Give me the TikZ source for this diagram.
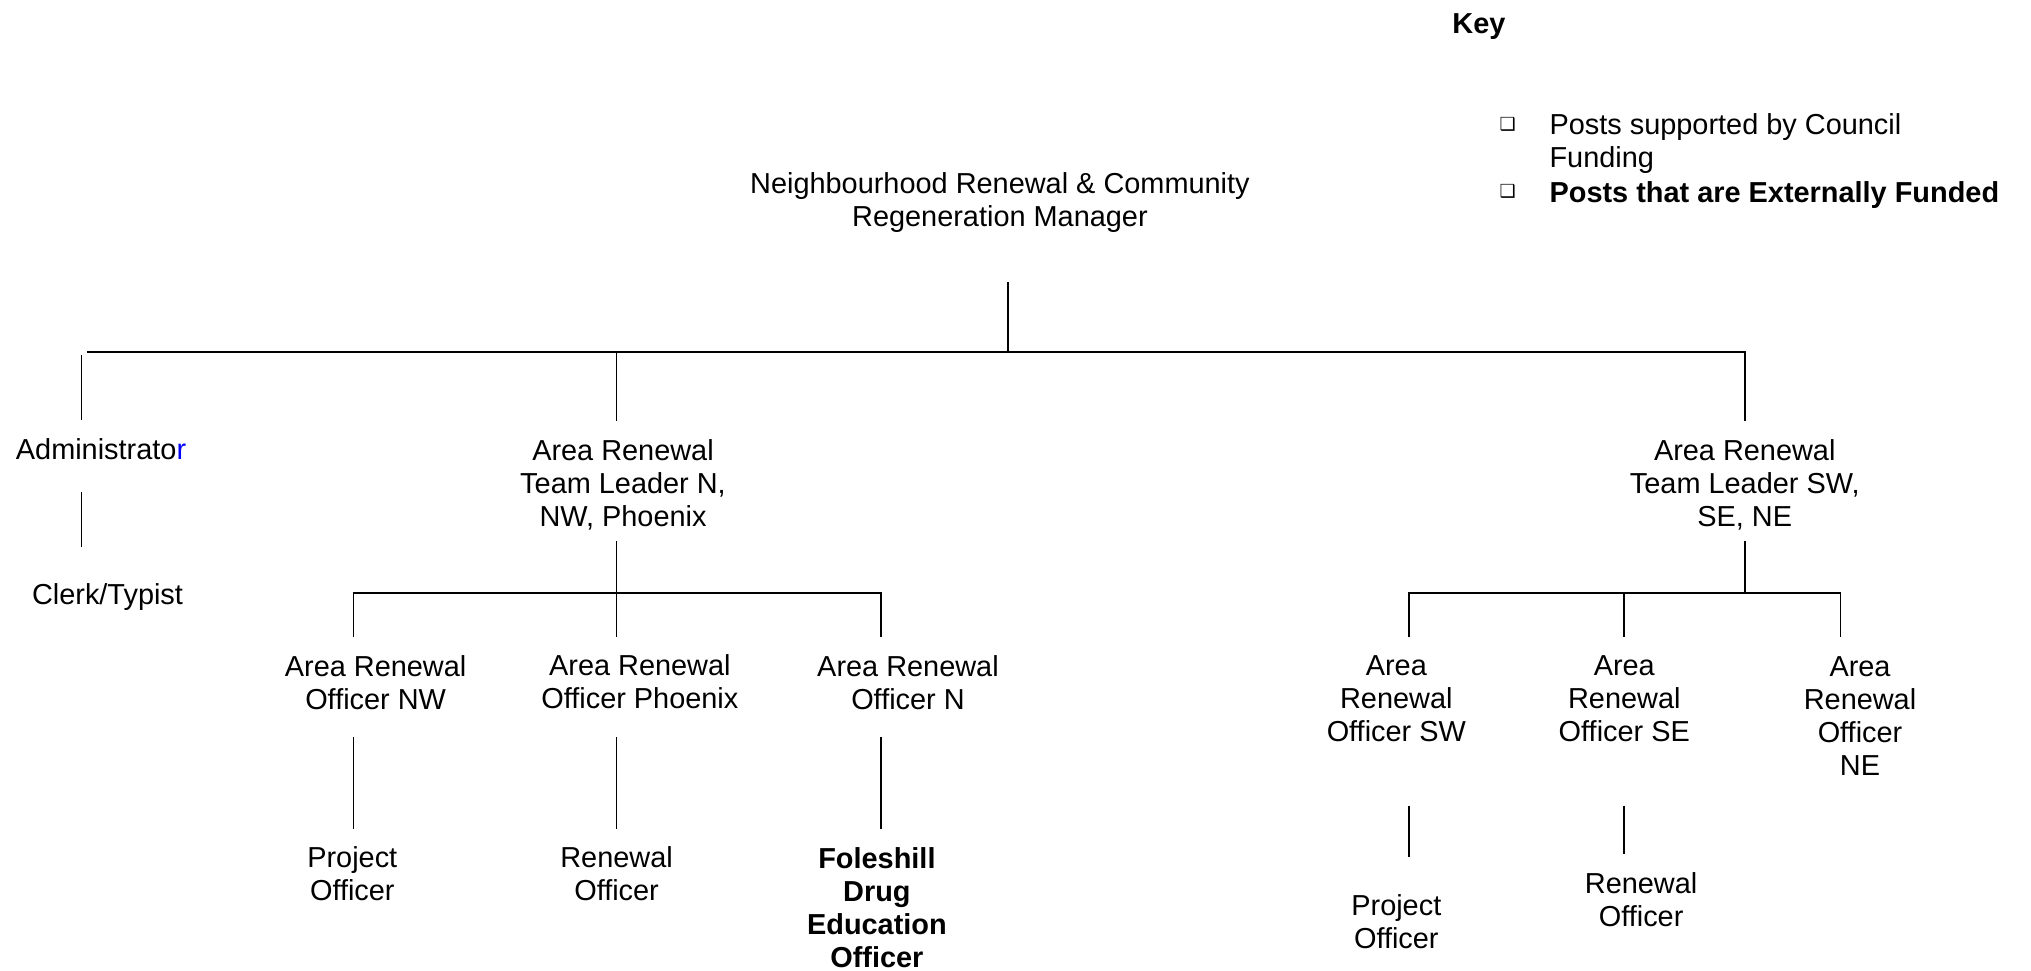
\documentclass[tikz,border=0pt]{standalone}
\usepackage{fontspec}
\setmainfont{Liberation Sans}
\newfontfamily\boxfont{DejaVu Sans}
\begin{document}
\begin{tikzpicture}[x=0.6477pt,y=-0.6477pt,
  post/.style={anchor=north,inner sep=0pt,align=center,font=\fontsize{14.45}{16.5}\selectfont},
  funded/.style={post,font=\fontsize{14.45}{16.5}\selectfont\bfseries},
  keytext/.style={anchor=north west,inner sep=0pt,align=left,font=\fontsize{14.45}{16.5}\selectfont},
  keybox/.style={inner sep=0pt,font=\fontsize{9}{9}\boxfont},
  link/.style={line width=0.85pt}]
\useasboundingbox (0,0) rectangle (1568,749);

% ---- key ----
\node[keytext,font=\fontsize{14.45}{16.5}\selectfont\bfseries] (key) at (1121,10) {Key};
\node[keybox] (kb1) at (1164,96) {❑};
\node[keytext] (k1) at (1196,87) {Posts supported by Council\\Funding};
\node[keybox] (kb2) at (1164,148) {❑};
\node[keytext,font=\fontsize{14.45}{16.5}\selectfont\bfseries] (k2) at (1196,140) {Posts that are Externally Funded};

% ---- posts ----
\node[post] (mgr) at (772,133) {Neighbourhood Renewal \& Community\\Regeneration Manager};
\node[post] (adm) at (78,338) {Administrato\textcolor{blue}{r}};
\node[post] (clerk) at (83,450) {Clerk/Typist};
\node[post] (tln) at (481,339) {Area Renewal\\Team Leader N,\\NW, Phoenix};
\node[post] (tls) at (1347,339) {Area Renewal\\Team Leader SW,\\SE, NE};

\node[post] (aonw) at (290,506) {Area Renewal\\Officer NW};
\node[post] (aoph) at (494,505) {Area Renewal\\Officer Phoenix};
\node[post] (aon) at (701,506) {Area Renewal\\Officer N};
\node[post] (po1) at (272,653) {Project\\Officer};
\node[post] (ro1) at (476,653) {Renewal\\Officer};
\node[funded] (fdeo) at (677,654) {Foleshill\\Drug\\Education\\Officer};

\node[post] (aosw) at (1078,506) {Area\\Renewal\\Officer SW};
\node[post] (aose) at (1254,506) {Area\\Renewal\\Officer SE};
\node[post] (aone) at (1436,507) {Area\\Renewal\\Officer\\NE};
\node[post] (po2) at (1078,690) {Project\\Officer};
\node[post] (ro2) at (1267,673) {Renewal\\Officer};

% ---- connector end points ----
\coordinate (mgrFoot) at (778,218);
\coordinate (mainJ) at (778,272);
\coordinate (mainW) at (67.5,272);
\coordinate (mainE) at (1347,272);
\coordinate (admHeadTop) at (63,274);
\coordinate (admHead) at (63,324);
\coordinate (tlnJ) at (476,272);
\coordinate (tlnHead) at (476,325);
\coordinate (tlsHead) at (1347,325);
\coordinate (admFoot) at (63,380);
\coordinate (clerkHead) at (63,422);

\coordinate (tlnFoot) at (476,418);
\coordinate (nJ) at (476,458);
\coordinate (nW) at (273,458);
\coordinate (nE) at (680,458);
\coordinate (aonwHead) at (273,492);
\coordinate (aophHead) at (476,492);
\coordinate (aonHead) at (680,492);
\coordinate (aonwFoot) at (273,569);
\coordinate (aophFoot) at (476,569);
\coordinate (aonFoot) at (680,569);
\coordinate (po1Head) at (273,640);
\coordinate (ro1Head) at (476,640);
\coordinate (fdeoHead) at (680,640);

\coordinate (tlsFoot) at (1347,418);
\coordinate (sJ) at (1347,458);
\coordinate (sW) at (1088,458);
\coordinate (sM) at (1254,458);
\coordinate (sE) at (1421,458);
\coordinate (aoswHead) at (1088,492);
\coordinate (aoseHead) at (1254,492);
\coordinate (aoneHead) at (1421,492);
\coordinate (aoswFoot) at (1088,622);
\coordinate (aoseFoot) at (1254,622);
\coordinate (po2Head) at (1088,662);
\coordinate (ro2Head) at (1254,659);

% ---- connectors ----
\draw[link] (mgrFoot) -- (mainJ);
\draw[link] (mainW) -- (mainE) -- (tlsHead);
\draw[link] (admHeadTop) -- (admHead);
\draw[link] (tlnJ) -- (tlnHead);
\draw[link] (admFoot) -- (clerkHead);

\draw[link] (tlnFoot) -- (nJ);
\draw[link] (aonwHead) -- (nW) -- (nE) -- (aonHead);
\draw[link] (nJ) -- (aophHead);
\draw[link] (aonwFoot) -- (po1Head);
\draw[link] (aophFoot) -- (ro1Head);
\draw[link] (aonFoot) -- (fdeoHead);

\draw[link] (tlsFoot) -- (sJ);
\draw[link] (aoswHead) -- (sW) -- (sE) -- (aoneHead);
\draw[link] (sM) -- (aoseHead);
\draw[link] (aoswFoot) -- (po2Head);
\draw[link] (aoseFoot) -- (ro2Head);
\end{tikzpicture}
\end{document}
